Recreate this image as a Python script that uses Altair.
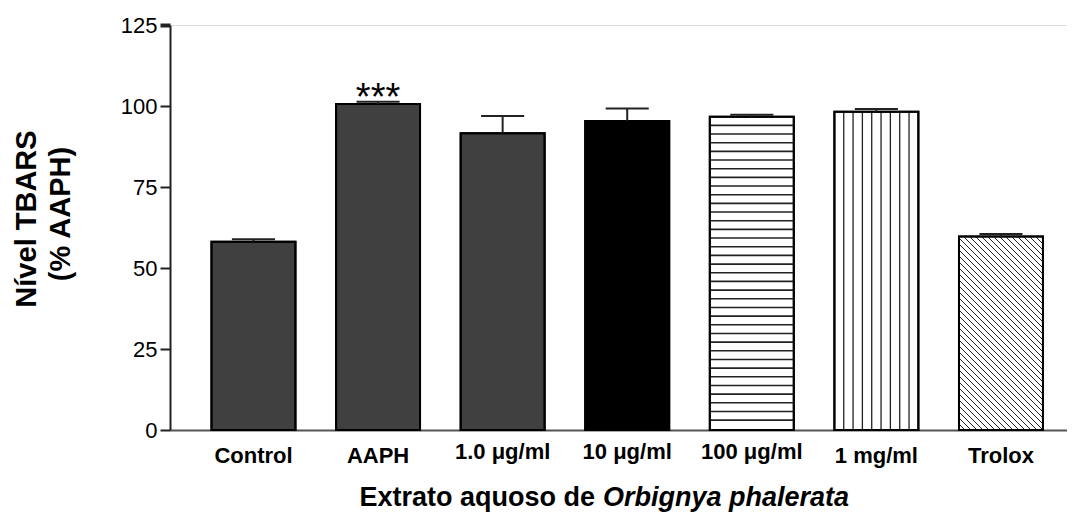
import altair as alt
import pandas as pd

# ---------------- data ----------------
categories = ["Control", "AAPH", "1.0 μg/ml", "10 μg/ml", "100 μg/ml", "1 mg/ml", "Trolox"]
means = [58.1, 100.6, 91.6, 95.4, 96.7, 98.2, 59.7]
errors = [0.8, 0.7, 5.3, 3.8, 0.6, 0.9, 0.8]
fills = ["#404040", "#404040", "#404040", "#000000", "#ffffff", "#ffffff", "#ffffff"]
patterns = ["solid", "solid", "solid", "solid", "horizontal", "vertical", "diagonal"]
significance = ["", "***", "", "", "", "", ""]
y_ticks = [0, 25, 50, 75, 100, 125]

# ---------------- layout ----------------
PLOT_W, PLOT_H = 897, 405
X_MIN, X_MAX = -0.67, 6.53
Y_MAX = 125
BAR_HALF = 0.337
CAP_HALF = 0.173
PX_X = PLOT_W / (X_MAX - X_MIN)
PX_Y = PLOT_H / Y_MAX
FONT = "Liberation Sans"

bars = pd.DataFrame({
    "pos": list(range(len(categories))),
    "label": categories,
    "mean": means,
    "err": errors,
    "fill": fills,
    "pattern": patterns,
    "sig": significance,
})
bars["lo"] = bars["pos"] - BAR_HALF
bars["hi"] = bars["pos"] + BAR_HALF
bars["zero"] = 0.0
bars["top"] = bars["mean"] + bars["err"]
bars["cap_lo"] = bars["pos"] - CAP_HALF
bars["cap_hi"] = bars["pos"] + CAP_HALF
bars["micro"] = bars["label"].str.contains("μ")

# pattern (hatching) lines inside the white bars
rows = []
for _, b in bars.iterrows():
    if b.pattern == "horizontal":
        step = 8.67 / PX_Y
        v = b["mean"] - step
        while v > 0.4 * step:
            rows.append(dict(x=b.lo, x2=b.hi, y=v, y2=v, w=1.6))
            v -= step
    elif b.pattern == "vertical":
        n = 9
        for k in range(1, n):
            xv = b.lo + k * (b.hi - b.lo) / n
            rows.append(dict(x=xv, x2=xv, y=0.0, y2=b["mean"], w=1.3))
    elif b.pattern == "diagonal":
        W = (b.hi - b.lo) * PX_X
        H = b["mean"] * PX_Y
        sp = 6.0
        c = sp
        while c < W + H:
            u0 = max(0.0, c - H)
            h0 = c - u0
            h1 = max(0.0, c - W)
            u1 = c - h1
            rows.append(dict(x=b.lo + u0 / PX_X, x2=b.lo + u1 / PX_X,
                             y=h0 / PX_Y, y2=h1 / PX_Y, w=1.0))
            c += sp
hatch = pd.DataFrame(rows)

xscale = alt.Scale(domain=[X_MIN, X_MAX], nice=False, zero=False)
yscale = alt.Scale(domain=[0, Y_MAX], nice=False, zero=True)
xaxis = alt.Axis(labels=False, ticks=False, title=None, grid=False,
                 domainColor="#555555", domainWidth=2)
yaxis = alt.Axis(values=y_ticks, title=None, grid=False, format="d",
                 labelFont=FONT, labelFontSize=22, labelColor="black",
                 tickSize=10,
                 tickWidth={"condition": {"test": "datum.value == 125", "value": 4}, "value": 2},
                 tickColor="#222222",
                 domainColor="#222222", domainWidth=2, labelPadding=3)


def X(f):
    return alt.X(f, type="quantitative", scale=xscale, axis=xaxis)


def Y(f):
    return alt.Y(f, type="quantitative", scale=yscale, axis=yaxis)


base = alt.Chart(bars)

bar_fill = base.mark_rect(stroke="black", strokeWidth=2).encode(
    x=X("lo"), x2="hi", y=Y("zero"), y2="mean",
    fill=alt.Fill("fill:N", scale=None),
)

hatch_layer = alt.Chart(hatch).mark_rule(color="#222222").encode(
    x=X("x"), x2="x2", y=Y("y"), y2="y2",
    strokeWidth=alt.StrokeWidth("w:Q", scale=None),
)

outline = base.mark_rect(filled=False, stroke="black", strokeWidth=2).encode(
    x=X("lo"), x2="hi", y=Y("zero"), y2="mean",
)

err_stem = base.mark_rule(color="#222222", strokeWidth=2).encode(
    x=X("pos"), y=Y("mean"), y2="top",
)
err_cap = base.mark_rule(color="#222222", strokeWidth=2).encode(
    x=X("cap_lo"), x2="cap_hi", y=Y("top"),
)

stars = base.transform_filter("datum.sig != ''").mark_text(
    font=FONT, fontSize=38, baseline="alphabetic", dy=8, color="black",
).encode(x=X("pos"), y=Y("top"), text="sig:N")

labels_plain = base.transform_filter("!datum.micro").mark_text(
    font=FONT, fontSize=22, fontWeight="bold", baseline="alphabetic", color="black",
).encode(x=X("pos"), y=alt.value(PLOT_H + 33), text="label:N")

labels_micro = base.transform_filter("datum.micro").mark_text(
    font=FONT, fontSize=22, fontWeight="bold", baseline="alphabetic", color="black",
).encode(x=X("pos"), y=alt.value(PLOT_H + 29), text="label:N")

ytitle1 = alt.Chart(pd.DataFrame({"t": ["Nível TBARS"]})).mark_text(
    font=FONT, fontSize=29, fontWeight="bold", angle=270, align="center",
    baseline="alphabetic", color="black",
).encode(x=alt.value(36 - 170), y=alt.value(219 - 25), text="t:N")

ytitle2 = alt.Chart(pd.DataFrame({"t": ["(% AAPH)"]})).mark_text(
    font=FONT, fontSize=29, fontWeight="bold", angle=270, align="center",
    baseline="alphabetic", color="black",
).encode(x=alt.value(70 - 170), y=alt.value(214 - 25), text="t:N")

xtitle1 = alt.Chart(pd.DataFrame({"t": ["Extrato aquoso de"]})).mark_text(
    font=FONT, fontSize=27, fontWeight="bold", align="right",
    baseline="alphabetic", color="black",
).encode(x=alt.value(595 - 170), y=alt.value(481), text="t:N")

xtitle2 = alt.Chart(pd.DataFrame({"t": ["Orbignya phalerata"]})).mark_text(
    font=FONT, fontSize=27, fontWeight="bold", fontStyle="italic", align="left",
    baseline="alphabetic", color="black",
).encode(x=alt.value(603 - 170), y=alt.value(481), text="t:N")

chart = alt.layer(
    bar_fill, hatch_layer, outline, err_stem, err_cap, stars,
    labels_plain, labels_micro, ytitle1, ytitle2, xtitle1, xtitle2,
).properties(
    width=PLOT_W, height=PLOT_H,
    autosize=alt.AutoSizeParams(type="none"),
    padding={"left": 162, "top": 17, "right": 0, "bottom": 89},
).configure_view(stroke=None).configure(background="white")

chart.save("out.html", embed_options={"renderer": "svg", "actions": False})
